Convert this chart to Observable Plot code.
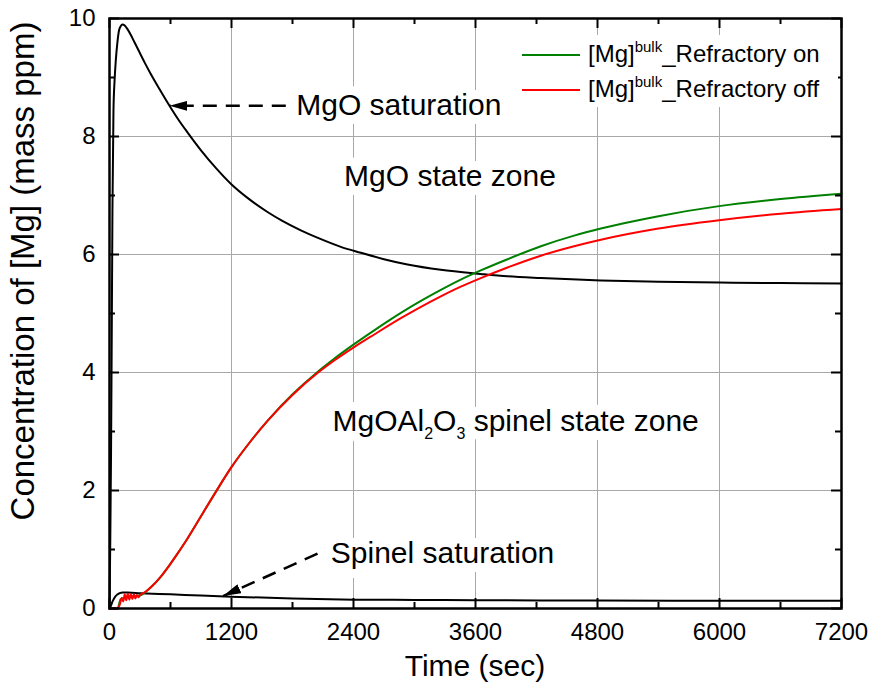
<!DOCTYPE html>
<html><head><meta charset="utf-8">
<script src="https://cdn.jsdelivr.net/npm/d3@7"></script>
<script src="https://cdn.jsdelivr.net/npm/@observablehq/plot@0.6"></script>
<style>body{margin:0;background:#fff}#chart{width:872px;height:697px}</style>
</head><body><div id="chart"></div>
<script>
// ---- data ----
const xMajor = [0, 1200, 2400, 3600, 4800, 6000, 7200];
const xMinor = [600, 1800, 3000, 4200, 5400, 6600];
const yMajor = [0, 2, 4, 6, 8, 10];
const yMinor = [1, 3, 5, 7, 9];

// MgO saturation curve (black)
const mgoTime = [0, 8, 15, 22, 29, 39, 50, 62, 78, 94, 110, 128, 150, 177, 210, 242, 300, 350, 406, 500, 587, 680, 767, 898, 1050, 1193, 1380, 1554, 1700, 1882, 2080, 2275, 2472, 2700, 2931, 3259, 3652, 3915, 4243, 4833, 5400, 6000, 6600, 7200];
const mgoConc = [0, 1.2, 2.6, 4.6, 6.75, 8.44, 8.95, 9.29, 9.6, 9.8, 9.87, 9.9, 9.88, 9.82, 9.72, 9.61, 9.41, 9.24, 9.06, 8.78, 8.53, 8.28, 8.07, 7.77, 7.46, 7.2, 6.93, 6.72, 6.57, 6.41, 6.26, 6.13, 6.03, 5.92, 5.83, 5.74, 5.67, 5.63, 5.6, 5.56, 5.54, 5.525, 5.515, 5.51];

// Spinel saturation curve (black)
const spinelTime = [0, 15, 30, 45, 60, 80, 100, 130, 177, 300, 600, 900, 1193, 1800, 2406, 3000, 3600, 4800, 6000, 7200];
const spinelConc = [0, 0.05, 0.12, 0.17, 0.21, 0.24, 0.26, 0.27, 0.27, 0.26, 0.24, 0.22, 0.2, 0.17, 0.15, 0.145, 0.14, 0.135, 0.13, 0.13];

// [Mg]bulk Refractory off (red)
const offTime = [0, 40, 79, 100, 120, 135, 150, 165, 180, 195, 210, 225, 240, 255, 270, 285, 300, 320, 350, 374, 420, 505, 580, 669, 750, 832, 930, 1029, 1193, 1350, 1554, 1800, 2046, 2200, 2406, 2600, 2866, 3050, 3259, 3450, 3652, 3915, 4243, 4570, 4833, 5400, 5996, 6600, 7200];
const offConc = [0, 0, 0, 0.06, 0.18, 0.12, 0.24, 0.14, 0.25, 0.15, 0.24, 0.16, 0.24, 0.17, 0.23, 0.19, 0.23, 0.25, 0.28, 0.31, 0.38, 0.54, 0.71, 0.93, 1.14, 1.37, 1.65, 1.93, 2.38, 2.75, 3.18, 3.62, 3.99, 4.19, 4.43, 4.64, 4.92, 5.10, 5.29, 5.45, 5.60, 5.78, 5.98, 6.14, 6.25, 6.44, 6.58, 6.69, 6.77];

// [Mg]bulk Refractory on (green)
const onTime = [0, 79, 110, 200, 300, 374, 420, 505, 580, 669, 750, 832, 930, 1029, 1193, 1350, 1554, 1800, 2046, 2200, 2406, 2600, 2866, 3050, 3259, 3450, 3652, 3915, 4243, 4570, 4833, 5400, 5996, 6600, 7200];
const onConc = [0, 0, 0.16, 0.2, 0.22, 0.31, 0.38, 0.54, 0.71, 0.93, 1.14, 1.37, 1.65, 1.93, 2.38, 2.75, 3.18, 3.63, 4.01, 4.22, 4.48, 4.71, 5.01, 5.20, 5.40, 5.57, 5.73, 5.92, 6.14, 6.32, 6.44, 6.65, 6.82, 6.94, 7.03];

const legendLabels = ["_Refractory on", "_Refractory off"];
const legendColors = ["#008000", "#ff0000"];

const noteText = ["MgO saturation", "MgO state zone", "MgOAl2O3 spinel state zone", "Spinel saturation"];
const noteTime = [1837, 2307, 2193, 2177];
const noteConc = [8.535, 7.33, 3.17, 0.94];

const arrowFromTime = [1734, 2046];
const arrowFromConc = [8.52, 0.93];
const arrowToTime = [590, 1117];
const arrowToConc = [8.52, 0.21];

const xTitle = "Time (sec)";
const yTitle = "Concentration of [Mg] (mass ppm)";

// ---- tables ----
const toRows = (ts, vs) => ts.map((t, i) => ({t, v: vs[i]}));
const mgo = toRows(mgoTime, mgoConc);
const spinel = toRows(spinelTime, spinelConc);
const off = toRows(offTime, offConc);
const on = toRows(onTime, onConc);
const notes = noteText.map((label, i) => ({label, t: noteTime[i], v: noteConc[i]}));
const arrows = arrowFromTime.map((t1, i) => ({t1, v1: arrowFromConc[i], t2: arrowToTime[i], v2: arrowToConc[i]}));

const W = 872, H = 697, mL = 109, mR = 31, mT = 18, mB = 89;
const fw = W - mL - mR, fh = H - mT - mB;
const majorLen = 10, minorLen = 6;
const FONT = "'Liberation Sans', Arial, sans-serif";

const noteOpts = {x: "t", y: "v", text: "label", textAnchor: "start", lineAnchor: "middle", fontSize: 30};

const chart = Plot.plot({
  width: W, height: H,
  marginLeft: mL, marginRight: mR, marginTop: mT, marginBottom: mB,
  style: {fontFamily: FONT, fontSize: "24px", background: "#fff", color: "#000"},
  x: {domain: [0, 7200]},
  y: {domain: [0, 10]},
  marks: [
    Plot.gridX({ticks: xMajor, stroke: "#a8a8a8", strokeOpacity: 1, strokeWidth: 1}),
    Plot.gridY({ticks: yMajor, stroke: "#a8a8a8", strokeOpacity: 1, strokeWidth: 1}),
    // white halo behind annotation text (hides grid lines), then the text itself
    Plot.text(notes, {...noteOpts, fill: "#fff", stroke: "#fff", strokeWidth: 18}),
    Plot.text(notes, {...noteOpts, fill: "#000"}),
    Plot.line(mgo, {x: "t", y: "v", stroke: "#000", strokeWidth: 2, curve: "monotone-x"}),
    Plot.line(spinel, {x: "t", y: "v", stroke: "#000", strokeWidth: 2, curve: "monotone-x"}),
    Plot.line(on, {x: "t", y: "v", stroke: legendColors[0], strokeWidth: 2, curve: "monotone-x"}),
    Plot.line(off, {x: "t", y: "v", stroke: legendColors[1], strokeWidth: 2, curve: "monotone-x"}),
    Plot.link(arrows, {x1: "t1", y1: "v1", x2: "t2", y2: "v2", stroke: "#000", strokeWidth: 2.5, strokeDasharray: "14,9"}),
    // inward ticks on all four sides
    Plot.tickX(xMajor, {x: d => d, insetTop: fh - majorLen, stroke: "#000", strokeWidth: 2}),
    Plot.tickX(xMinor, {x: d => d, insetTop: fh - minorLen, stroke: "#000", strokeWidth: 2}),
    Plot.tickX(xMajor, {x: d => d, insetBottom: fh - majorLen, stroke: "#000", strokeWidth: 2}),
    Plot.tickX(xMinor, {x: d => d, insetBottom: fh - minorLen, stroke: "#000", strokeWidth: 2}),
    Plot.tickY(yMajor, {y: d => d, insetRight: fw - majorLen, stroke: "#000", strokeWidth: 2}),
    Plot.tickY(yMinor, {y: d => d, insetRight: fw - minorLen, stroke: "#000", strokeWidth: 2}),
    Plot.tickY(yMajor, {y: d => d, insetLeft: fw - majorLen, stroke: "#000", strokeWidth: 2}),
    Plot.tickY(yMinor, {y: d => d, insetLeft: fw - minorLen, stroke: "#000", strokeWidth: 2}),
    Plot.frame({stroke: "#000", strokeWidth: 2.5}),
    Plot.axisX({ticks: xMajor, tickSize: 0, tickPadding: 14, tickFormat: d => String(d), label: null, fontSize: 24}),
    Plot.axisY({ticks: yMajor, tickSize: 0, tickPadding: 14, tickFormat: d => String(d), label: null, fontSize: 24})
  ]
});
document.getElementById("chart").append(chart);

// ---- post-processing: arrowheads, subscripts, titles, legend ----
const svg = d3.select(chart);
const defs = svg.insert("defs", ":first-child");
defs.append("marker").attr("id", "ah").attr("viewBox", "0 0 18 10").attr("refX", 18).attr("refY", 5)
  .attr("markerWidth", 18).attr("markerHeight", 10).attr("markerUnits", "userSpaceOnUse").attr("orient", "auto")
  .append("path").attr("d", "M0,0L18,5L0,10Z").attr("fill", "#000");
svg.selectAll('g[aria-label="link"] path').attr("marker-end", "url(#ah)");

svg.selectAll("text").filter(function() { return this.textContent === noteText[2]; }).each(function() {
  const t = d3.select(this);
  t.text(null);
  t.append("tspan").text("MgOAl");
  t.append("tspan").attr("font-size", 16).attr("dy", 8).text("2");
  t.append("tspan").attr("dy", -8).text("O");
  t.append("tspan").attr("font-size", 16).attr("dy", 8).text("3");
  t.append("tspan").attr("dy", -8).text(" spinel state zone");
});

const xs = chart.scale("x");
const xMid = (xs.apply(0) + xs.apply(7200)) / 2;
svg.append("text").attr("x", xMid).attr("y", H - 21).attr("text-anchor", "middle")
  .attr("font-family", FONT).attr("font-size", 30).attr("fill", "#000").text(xTitle);
svg.append("text").attr("transform", `translate(34,271) rotate(-90)`).attr("text-anchor", "middle")
  .attr("font-family", FONT).attr("font-size", 33).attr("fill", "#000").text(yTitle);

const lg = svg.append("g").attr("font-family", FONT).attr("text-anchor", "start");
lg.append("rect").attr("x", 510).attr("y", 35).attr("width", 328).attr("height", 72).attr("fill", "#fff");
legendLabels.forEach((lab, i) => {
  const cy = 55 + i * 35;
  lg.append("line").attr("x1", 522).attr("x2", 580).attr("y1", cy).attr("y2", cy)
    .attr("stroke", legendColors[i]).attr("stroke-width", 2);
  const tx = lg.append("text").attr("x", 588).attr("y", cy + 7).attr("font-size", 24).attr("fill", "#000");
  tx.append("tspan").text("[Mg]");
  tx.append("tspan").attr("font-size", 15).attr("dy", -10).text("bulk");
  tx.append("tspan").attr("dy", 10).text(lab);
});
</script></body></html>
